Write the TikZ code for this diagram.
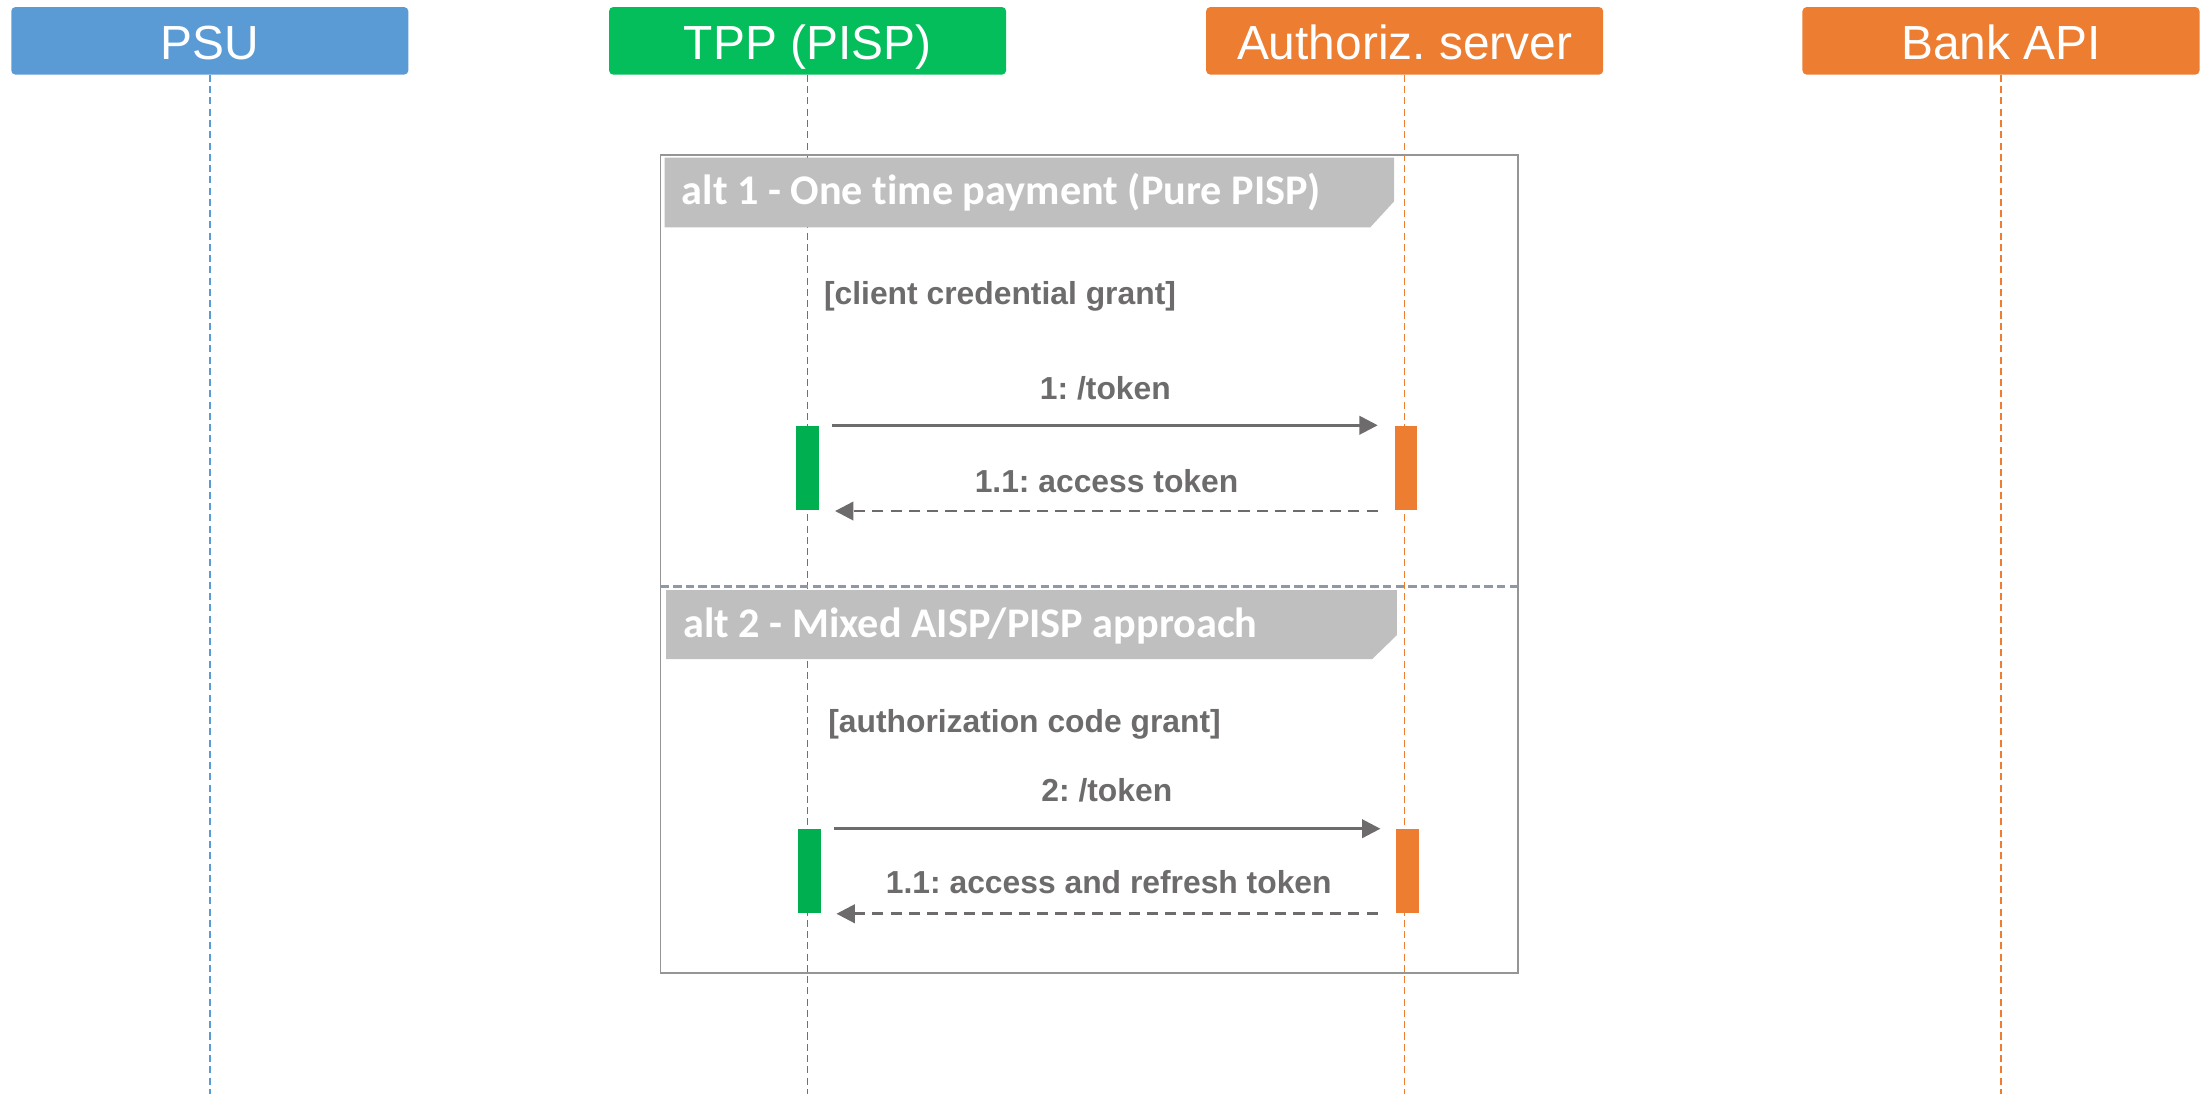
\documentclass[tikz,border=0pt]{standalone}
\usepackage{fontspec}
\setmainfont{Liberation Sans}
\newfontfamily\altfont[Ligatures=NoCommon]{Carlito}
\usetikzlibrary{arrows.meta}
\definecolor{psublue}{HTML}{5B9BD5}
\definecolor{tppgreen}{HTML}{04BE5B}
\definecolor{bargreen}{HTML}{00B050}
\definecolor{orangec}{HTML}{ED7D31}
\definecolor{altgray}{HTML}{BFBFBF}
\definecolor{txtgray}{HTML}{6D6B6B}
\definecolor{framegray}{HTML}{959595}
\definecolor{sepgray}{HTML}{9098A8}
\frenchspacing
\begin{document}
\begin{tikzpicture}[x=1pt,y=-1pt,
  actor/.style={rectangle,rounded corners=3pt,minimum width=282pt,minimum height=48pt,inner sep=0pt,
    text=white,text height=27.2pt,text depth=0pt,font=\fontsize{34}{40}\selectfont},
  life/.style={line width=1pt,dash pattern=on 5pt off 3pt},
  actbar/.style={rectangle,minimum width=16pt,minimum height=59.5pt,inner sep=0pt,anchor=north},
  lbl/.style={text=txtgray,font=\bfseries\fontsize{22.6}{26}\selectfont,inner sep=0pt,anchor=base},
  msg/.style={draw=txtgray,line width=2pt,-{Triangle[length=13pt,width=13pt]}},
  ret/.style={msg,dash pattern=on 8pt off 5pt},
  alttext/.style={text=white,font=\altfont\bfseries\fontsize{30}{34}\selectfont,inner sep=0pt,anchor=base west}]
\useasboundingbox (0,0) rectangle (1568,777);
% actors
\node[actor,fill=psublue] (psu) at (149,29) {PSU};
\node[actor,fill=tppgreen] (tpp) at (573.5,29) {TPP (PISP)};
\node[actor,fill=orangec] (auth) at (997.5,29) {Authoriz. server};
\node[actor,fill=orangec] (bank) at (1421,29) {Bank API};
\coordinate (psuend) at (149,777);
\coordinate (tppend) at (573.5,777);
\coordinate (authend) at (997.5,777);
\coordinate (bankend) at (1421,777);
\draw[life,draw=psublue] (psu.south) -- (psuend);
\draw[life,draw=bargreen] (tpp.south) -- (tppend);
\draw[life,draw=orangec] (auth.south) -- (authend);
\draw[life,draw=orangec] (bank.south) -- (bankend);
% frame
\node[draw=framegray,line width=1.3pt,minimum width=609pt,minimum height=581pt,inner sep=0pt] (frame) at (773.5,400.5) {};
\coordinate (sepl) at (469,416.5);
\coordinate (sepr) at (1078,416.5);
\draw[sepgray,line width=1.5pt,dash pattern=on 6pt off 3pt] (sepl) -- (sepr);
% alt headers
\fill[altgray] (472,112) -- (990,112) -- (990,143) -- (973,161.5) -- (472,161.5) -- cycle;
\node[alttext] (alt1) at (484,145) {alt 1 - One time payment (Pure PISP)};
\fill[altgray] (473,419) -- (992,419) -- (992,451) -- (974.5,468) -- (473,468) -- cycle;
\node[alttext] (alt2) at (485,453) {alt 2 - Mixed AISP/PISP approach};
% guards
\node[lbl,anchor=base west] (g1t) at (585,216) {[client credential grant]};
\node[lbl,anchor=base west] (g2t) at (588,520.5) {[authorization code grant]};
% activation bars
\node[actbar,fill=bargreen] (g1) at (573.5,302.5) {};
\node[actbar,fill=orangec] (o1) at (998.4,302.5) {};
\node[actbar,fill=bargreen] (g2) at (574.8,588.5) {};
\node[actbar,fill=orangec] (o2) at (999.6,588.5) {};
% messages
\draw[msg] ([xshift=9.3pt,yshift=0.5pt]g1.north east) -- ([xshift=-11.8pt,yshift=0.5pt]o1.north west);
\draw[ret] ([xshift=-11.8pt,yshift=-0.5pt]o1.south west) -- ([xshift=11.3pt,yshift=-0.5pt]g1.south east);
\draw[msg] ([xshift=9.4pt]g2.north east) -- ([xshift=-11.1pt]o2.north west);
\draw[ret] ([xshift=-13pt,yshift=-0.5pt]o2.south west) -- ([xshift=11pt,yshift=-0.5pt]g2.south east);
% labels
\node[lbl] (l1) at (785,284) {1: /token};
\node[lbl] (l11) at (785.8,349.5) {1.1: access token};
\node[lbl] (l2) at (786,569.5) {2: /token};
\node[lbl] (l21) at (787.4,634.5) {1.1: access and refresh token};
\end{tikzpicture}
\end{document}
